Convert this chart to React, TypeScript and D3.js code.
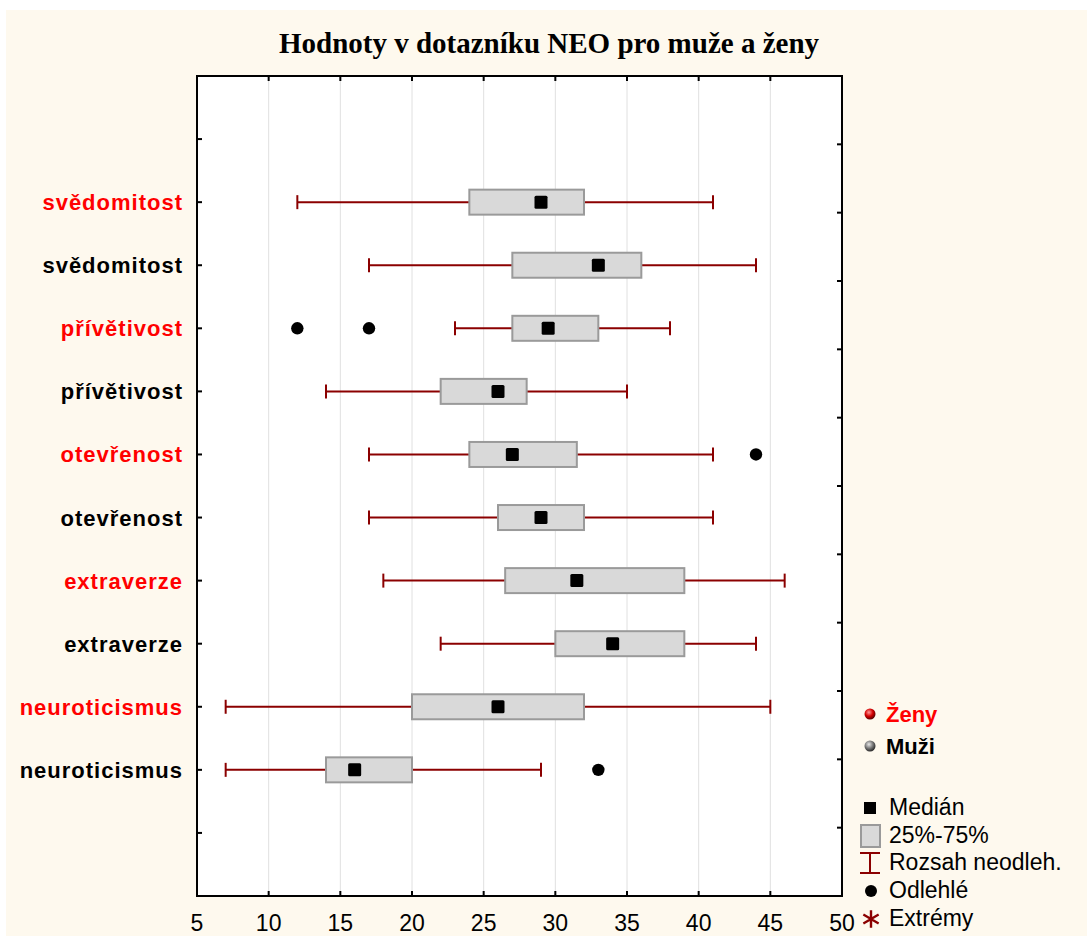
// Box plot of NEO questionnaire scores, women vs men, drawn with d3 into an svg
import React, { useRef, useEffect } from 'react';
import * as d3 from 'd3';

const title = 'Hodnoty v dotazníku NEO pro muže a ženy';
const traits = ['svědomitost', 'přívětivost', 'otevřenost', 'extraverze', 'neuroticismus'];
const groups = ['Ženy', 'Muži'];
// min, q1, median, q3, max (range without outliers)
const zenyStats = [
  [12, 24, 29, 32, 41],
  [23, 27, 29.5, 33, 38],
  [17, 24, 27, 31.5, 41],
  [18, 26.5, 31.5, 39, 46],
  [7, 20, 26, 32, 45],
];
const muziStats = [
  [17, 27, 33, 36, 44],
  [14, 22, 26, 28, 35],
  [17, 26, 29, 32, 41],
  [22, 30, 34, 39, 44],
  [7, 14, 16, 20, 29],
];
const zenyOutliers = [[], [12, 17], [44], [], []];
const muziOutliers = [[], [], [], [], [33]];
const xTicks = [5, 10, 15, 20, 25, 30, 35, 40, 45, 50];
const legendItems = ['Medián', '25%-75%', 'Rozsah neodleh.', 'Odlehlé', 'Extrémy'];

const W = 1087;
const H = 936;
const plot = { left: 197, right: 842, top: 76, bottom: 896 };
const whiskerColor = '#8b0000';

function App() {
  const ref = useRef<SVGSVGElement>(null);

  useEffect(() => {
    const svg = d3.select(ref.current);
    svg.selectAll('*').remove();

    // rows: women first, then men, for every trait
    const rows: any[] = [];
    traits.forEach((t, i) => {
      rows.push({ key: t + '|z', label: t, color: '#ff0000', s: zenyStats[i], out: zenyOutliers[i] });
      rows.push({ key: t + '|m', label: t, color: '#000000', s: muziStats[i], out: muziOutliers[i] });
    });

    const x = d3.scaleLinear().domain([5, 50]).range([plot.left, plot.right]);
    const y = d3.scalePoint<string>()
      .domain(['top', ...rows.map(r => r.key), 'bottom'])
      .range([plot.top, plot.bottom])
      .padding(1);
    // right axis has its own 12 slots
    const yRight = d3.scaleLinear().domain([0, 12]).range([plot.top, plot.bottom]);

    const defs = svg.append('defs');
    const grad = (id: string, c0: string, c1: string, c2: string) => {
      const g = defs.append('radialGradient').attr('id', id).attr('cx', '40%').attr('cy', '35%').attr('r', '65%');
      g.append('stop').attr('offset', '0%').attr('stop-color', c0);
      g.append('stop').attr('offset', '55%').attr('stop-color', c1);
      g.append('stop').attr('offset', '100%').attr('stop-color', c2);
    };
    grad('gz', '#ff9a9a', '#d40000', '#5a0000');
    grad('gm', '#e8e8e8', '#7a7a7a', '#2a2a2a');

    // page background
    svg.append('rect').attr('width', W).attr('height', H).attr('fill', '#ffffff');
    svg.append('rect').attr('x', 6).attr('y', 10).attr('width', W - 6).attr('height', H - 10).attr('fill', '#fef9ee');

    svg.append('text')
      .attr('x', 549).attr('y', 53)
      .attr('text-anchor', 'middle')
      .style('font-family', '"Liberation Serif", "Times New Roman", serif')
      .style('font-weight', 'bold')
      .style('font-size', '29px')
      .text(title);

    svg.append('rect')
      .attr('x', plot.left).attr('y', plot.top)
      .attr('width', plot.right - plot.left).attr('height', plot.bottom - plot.top)
      .attr('fill', '#ffffff');

    // vertical grid
    svg.append('g').selectAll('line')
      .data(xTicks.slice(1, -1))
      .enter().append('line')
      .attr('x1', d => x(d)).attr('x2', d => x(d))
      .attr('y1', plot.top).attr('y2', plot.bottom)
      .attr('stroke', '#e0e0e0').attr('stroke-width', 1);

    // boxes, whiskers, medians, outliers
    const g = svg.append('g');
    rows.forEach(r => {
      const cy = y(r.key)!;
      const [mn, q1, med, q3, mx] = r.s;
      g.append('line').attr('x1', x(mn)).attr('x2', x(mx)).attr('y1', cy).attr('y2', cy)
        .attr('stroke', whiskerColor).attr('stroke-width', 2);
      [mn, mx].forEach(v => {
        g.append('line').attr('x1', x(v)).attr('x2', x(v)).attr('y1', cy - 7).attr('y2', cy + 7)
          .attr('stroke', whiskerColor).attr('stroke-width', 2);
      });
      g.append('rect')
        .attr('x', x(q1)).attr('y', cy - 12.5)
        .attr('width', x(q3) - x(q1)).attr('height', 25)
        .attr('fill', '#d9d9d9').attr('stroke', '#9a9a9a').attr('stroke-width', 2);
      g.append('rect')
        .attr('x', x(med) - 6.5).attr('y', cy - 6.5)
        .attr('width', 13).attr('height', 13).attr('rx', 1.5)
        .attr('fill', '#000000');
      r.out.forEach((v: number) => {
        g.append('circle').attr('cx', x(v)).attr('cy', cy).attr('r', 6.2).attr('fill', '#000000');
      });
    });

    // frame
    svg.append('rect')
      .attr('x', plot.left).attr('y', plot.top)
      .attr('width', plot.right - plot.left).attr('height', plot.bottom - plot.top)
      .attr('fill', 'none').attr('stroke', '#000000').attr('stroke-width', 2);

    // inner ticks top/bottom
    xTicks.slice(1, -1).forEach(v => {
      svg.append('line').attr('x1', x(v)).attr('x2', x(v)).attr('y1', plot.top).attr('y2', plot.top + 5)
        .attr('stroke', '#000').attr('stroke-width', 2);
      svg.append('line').attr('x1', x(v)).attr('x2', x(v)).attr('y1', plot.bottom).attr('y2', plot.bottom - 5)
        .attr('stroke', '#000').attr('stroke-width', 2);
    });
    // left ticks
    y.domain().forEach(k => {
      const cy = y(k)!;
      svg.append('line').attr('x1', plot.left).attr('x2', plot.left + 5).attr('y1', cy).attr('y2', cy)
        .attr('stroke', '#000').attr('stroke-width', 2);
    });
    // right ticks
    d3.range(1, 12).forEach(i => {
      svg.append('line').attr('x1', plot.right).attr('x2', plot.right - 5)
        .attr('y1', yRight(i)).attr('y2', yRight(i))
        .attr('stroke', '#000').attr('stroke-width', 2);
    });

    // x labels
    svg.append('g').selectAll('text')
      .data(xTicks)
      .enter().append('text')
      .attr('x', d => x(d)).attr('y', 931)
      .attr('text-anchor', 'middle')
      .style('font-family', '"Liberation Sans", Arial, sans-serif')
      .style('font-size', '23px')
      .text(d => d);

    // category labels
    svg.append('g').selectAll('text')
      .data(rows)
      .enter().append('text')
      .attr('x', 183).attr('y', d => y(d.key)! + 8)
      .attr('text-anchor', 'end')
      .attr('fill', d => d.color)
      .style('font-family', '"Liberation Sans", Arial, sans-serif')
      .style('font-weight', 'bold')
      .style('font-size', '22px')
      .style('letter-spacing', '1px')
      .text(d => d.label);

    // group legend
    const lg = svg.append('g').style('font-family', '"Liberation Sans", Arial, sans-serif');
    groups.forEach((name, i) => {
      const cy = 714 + i * 32;
      lg.append('circle').attr('cx', 870).attr('cy', cy).attr('r', 5.5).attr('fill', i === 0 ? 'url(#gz)' : 'url(#gm)');
      lg.append('text').attr('x', 886).attr('y', cy + 8)
        .attr('fill', i === 0 ? '#ff0000' : '#000000')
        .style('font-weight', 'bold').style('font-size', '22px')
        .text(name);
    });

    // symbol legend
    const ly = [808, 836, 863, 891, 919];
    legendItems.forEach((name, i) => {
      const cy = ly[i];
      if (i === 0) {
        lg.append('rect').attr('x', 864).attr('y', cy - 6).attr('width', 12).attr('height', 12).attr('fill', '#000');
      } else if (i === 1) {
        lg.append('rect').attr('x', 861).attr('y', cy - 11).attr('width', 19).attr('height', 22)
          .attr('fill', '#d9d9d9').attr('stroke', '#9a9a9a').attr('stroke-width', 2);
      } else if (i === 2) {
        lg.append('path')
          .attr('d', `M860,${cy - 10}H880M870,${cy - 10}V${cy + 10}M860,${cy + 10}H880`)
          .attr('fill', 'none').attr('stroke', whiskerColor).attr('stroke-width', 2);
      } else if (i === 3) {
        lg.append('circle').attr('cx', 871).attr('cy', cy).attr('r', 6).attr('fill', '#000');
      } else {
        lg.append('path')
          .attr('transform', `translate(871,${cy})`)
          .attr('d', d3.symbol(d3.symbolAsterisk, 220)())
          .attr('fill', 'none').attr('stroke', whiskerColor).attr('stroke-width', 2.4);
      }
      lg.append('text').attr('x', 889).attr('y', cy + 7)
        .style('font-size', '23px')
        .text(name);
    });
  }, []);

  return <svg ref={ref} width={W} height={H} style={{ position: 'absolute', left: 0, top: 0 }} />;
}

export default App;
